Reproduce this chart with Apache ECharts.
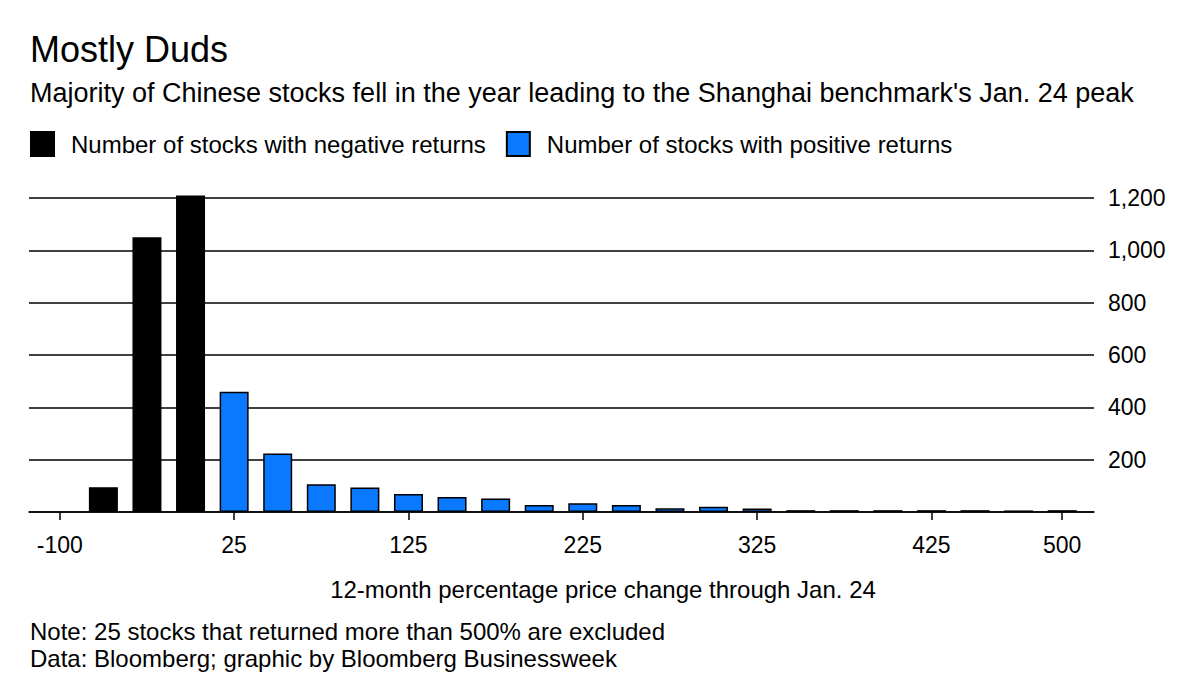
<!DOCTYPE html>
<html>
<head>
<meta charset="utf-8">
<script src="https://cdn.jsdelivr.net/npm/echarts@6/dist/echarts.min.js"></script>
<style>
html,body{margin:0;padding:0;background:#fff;}
#chart{width:1200px;height:685px;}
</style>
</head>
<body>
<div id="chart"></div>
<script>
// ---- data ----
const categories = ['-100','-75','-50','-25','25','50','75','100','125','150','175','200','225','250','275','300','325','350','375','400','425','450','475','500'];
const negativeValues = [null, 95, 1050, 1210, null,null,null,null,null,null,null,null,null,null,null,null,null,null,null,null,null,null,null,null];
const positiveValues = [null, null, null, null, 460, 224, 106, 94, 69, 57, 52, 27, 33, 27, 14, 20, 13, 7, 7, 7, 7, 7, 6, 7];
const tickLabels = ['-100','25','125','225','325','425','500'];
const yTicks = [0, 200, 400, 600, 800, 1000, 1200];

const titleText = 'Mostly Duds';
const subtitleText = "Majority of Chinese stocks fell in the year leading to the Shanghai benchmark's Jan. 24 peak";
const negName = 'Number of stocks with negative returns';
const posName = 'Number of stocks with positive returns';
const xName = '12-month percentage price change through Jan. 24';
const note1 = 'Note: 25 stocks that returned more than 500% are excluded';
const note2 = 'Data: Bloomberg; graphic by Bloomberg Businessweek';

const FONT = '"Liberation Sans", Arial, Helvetica, sans-serif';
const BLUE = '#0a78ff';

const chart = echarts.init(document.getElementById('chart'), null, {renderer: 'svg'});
const showLabel = (i, v) => tickLabels.indexOf(categories[i]) >= 0;

const txt = (text, x, y, size, align) => ({
  type: 'text', x: x, y: y,
  style: {text: text, x: 0, y: 0, fill: '#000', font: size + 'px ' + FONT, textAlign: align || 'left', textVerticalAlign: 'middle'}
});

const option = {
  animation: false,
  backgroundColor: '#fff',
  textStyle: {fontFamily: FONT},
  legend: {
    left: 30, top: 131, padding: 0, itemWidth: 23, itemHeight: 24, itemGap: 20, icon: 'rect',
    textStyle: {fontSize: 24, color: '#000', fontFamily: FONT, padding: [0, 0, 0, 12]},
    data: [negName, posName]
  },
  grid: [
    {left: 38, right: 116, top: 198, bottom: 173},
    {left: 29, right: 106, top: 198, bottom: 173}
  ],
  xAxis: [
    {
      type: 'category', gridIndex: 0, data: categories, boundaryGap: true,
      axisLine: {show: false},
      axisTick: {show: true, alignWithLabel: true, length: 8, interval: showLabel, lineStyle: {color: '#000', width: 1.5}},
      axisLabel: {show: true, interval: showLabel, color: '#000', fontSize: 23, fontFamily: FONT, margin: 21},
      splitLine: {show: false}
    },
    {
      type: 'value', gridIndex: 1, min: 0, max: 1,
      axisLine: {show: true, onZero: false, lineStyle: {color: '#000', width: 1.5}},
      axisTick: {show: false}, axisLabel: {show: false}, splitLine: {show: false}
    }
  ],
  yAxis: [
    {type: 'value', gridIndex: 0, min: yTicks[0], max: yTicks[yTicks.length - 1], interval: 200, show: false},
    {
      type: 'value', gridIndex: 1, position: 'right', min: yTicks[0], max: yTicks[yTicks.length - 1], interval: 200,
      axisLine: {show: false}, axisTick: {show: false},
      axisLabel: {
        color: '#000', fontSize: 23, fontFamily: FONT, margin: 14,
        formatter: v => v === 0 ? '' : v.toLocaleString('en-US')
      },
      splitLine: {show: true, lineStyle: {color: '#000', width: 1.5}}
    }
  ],
  series: [
    {
      name: negName, type: 'bar', xAxisIndex: 0, yAxisIndex: 0, stack: 'all', clip: false,
      barWidth: 29, data: negativeValues,
      itemStyle: {color: '#000', borderColor: '#000', borderWidth: 1.5}
    },
    {
      name: posName, type: 'bar', xAxisIndex: 0, yAxisIndex: 0, stack: 'all', clip: false,
      barWidth: 29, data: positiveValues,
      itemStyle: {color: BLUE, borderColor: '#000', borderWidth: 1.5}
    }
  ],
  graphic: [
    txt(titleText, 30, 49, 36),
    txt(subtitleText, 30, 93, 27),
    txt(xName, 603, 589, 24, 'center'),
    txt(note1, 30, 631, 24),
    txt(note2, 30, 658, 24)
  ]
};
chart.setOption(option);
</script>
</body>
</html>
